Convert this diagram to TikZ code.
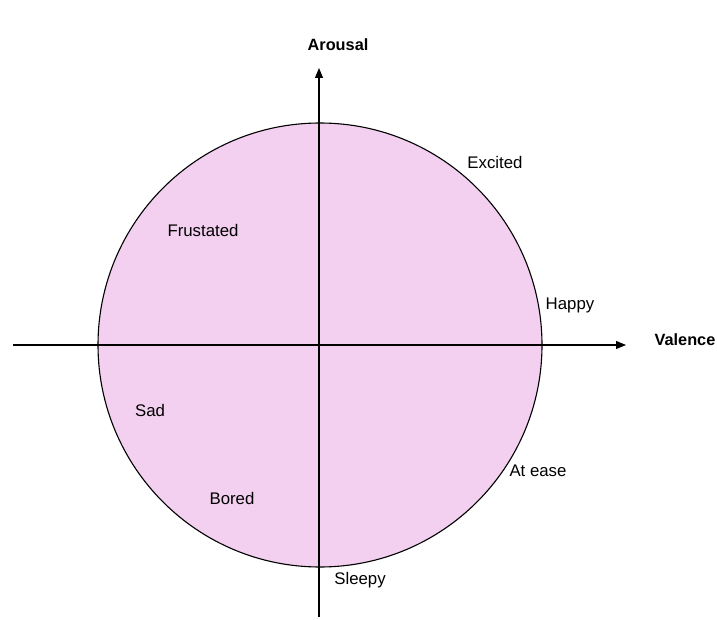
\documentclass[tikz,border=0pt]{standalone}
\usepackage{fontspec}
\setmainfont{Liberation Sans}
\usetikzlibrary{arrows.meta}
\definecolor{moodpink}{RGB}{243,208,240}

\begin{document}
\begin{tikzpicture}[x=1pt,y=-1pt,
      axis/.style={line width=1.1pt,-{Triangle[length=10pt,width=8pt]}},
      lbl/.style={font=\fontsize{16.8}{19}\selectfont,inner sep=0pt},
      title/.style={font=\fontsize{16.3}{19}\selectfont\bfseries,inner sep=0pt}]
    \useasboundingbox (0,0) rectangle (717,620);
    % the mood circle
    \draw[line width=1.1pt,fill=moodpink] (320,345) circle (222);
    % axes
    \coordinate (xs) at (13,345);
    \coordinate (xe) at (626,345);
    \coordinate (ys) at (319,617);
    \coordinate (ye) at (319,68);
    \draw[axis] (xs)--(xe);
    \draw[axis] (ys)--(ye);
    \node[title](arousal) at (338,45){Arousal};
    \node[title](valence) at (685,340){Valence};
    % emotions
    \node[lbl](excited) at (495,162){Excited};
    \node[lbl](frust) at (203,230){Frustated};
    \node[lbl](happy) at (570,305){Happy};
    \node[lbl](sad) at (150,410){Sad};
    \node[lbl](bored) at (232,498){Bored};
    \node[lbl](atease) at (538,471){At ease};
    \node[lbl](sleepy) at (360,580){Sleepy};
  \end{tikzpicture}
\end{document}
